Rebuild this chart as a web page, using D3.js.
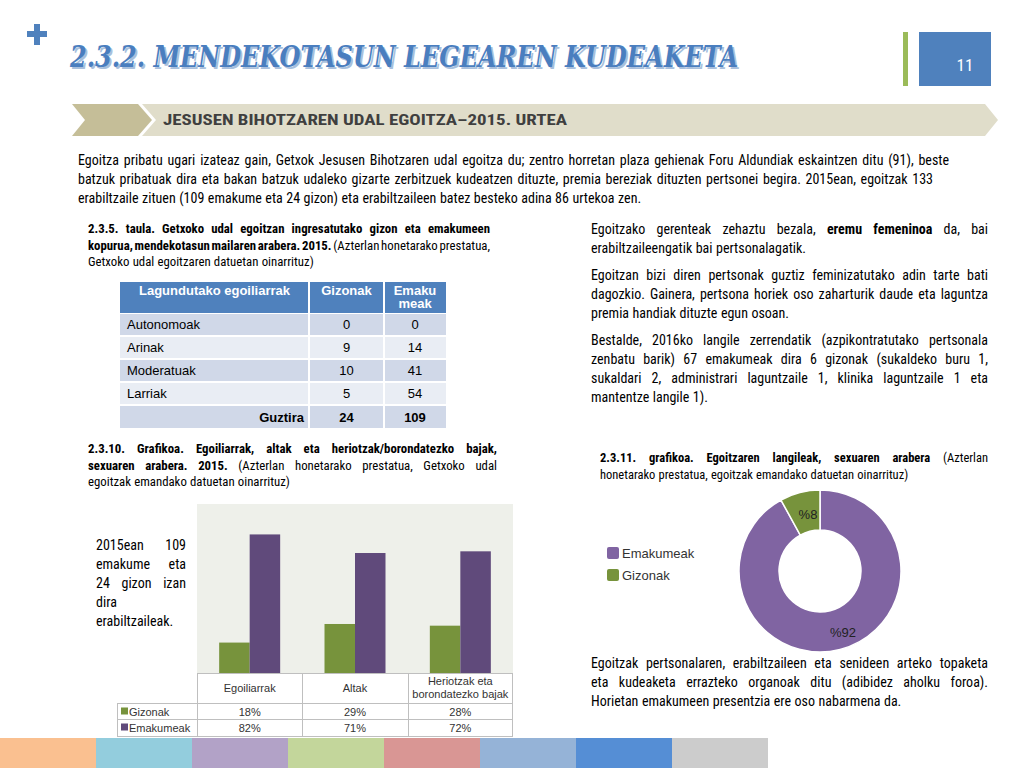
<!DOCTYPE html>
<html><head><meta charset="utf-8">
<script src="https://cdn.jsdelivr.net/npm/d3@7"></script>
<style>
html,body{margin:0;padding:0;background:#fff;}
svg{display:block;}
</style></head>
<body>
<script>
// ---------- DATA ----------
const pageTitle = "2.3.2. MENDEKOTASUN LEGEAREN KUDEAKETA";
const pageNumber = "11";
const sectionTitle = "JESUSEN BIHOTZAREN UDAL EGOITZA–2015. URTEA";

const introLines = [
  "Egoitza pribatu ugari izateaz gain, Getxok Jesusen Bihotzaren udal egoitza du; zentro horretan plaza gehienak Foru Aldundiak eskaintzen ditu (91), beste",
  "batzuk pribatuak dira eta bakan batzuk udaleko gizarte zerbitzuek kudeatzen dituzte, premia bereziak dituzten pertsonei begira. 2015ean, egoitzak 133",
  "erabiltzaile zituen (109 emakume eta 24 gizon) eta erabiltzaileen batez besteko adina 86 urtekoa zen."
];

// table 2.3.5
const tableHeaders = ["Lagundutako egoiliarrak", "Gizonak", "Emaku\nmeak"];
const tableLevels = ["Autonomoak", "Arinak", "Moderatuak", "Larriak"];
const tableMen = [0, 9, 10, 5];
const tableWomen = [0, 14, 41, 54];
const tableTotalLabel = "Guztira";
const tableTotals = [24, 109];

// bar chart 2.3.10
const barCategories = ["Egoiliarrak", "Altak", "Heriotzak eta\nborondatezko bajak"];
const barSeries = ["Gizonak", "Emakumeak"];
const menPct = [18, 29, 28];
const womenPct = [82, 71, 72];

// donut 2.3.11
const donutLabels = ["Emakumeak", "Gizonak"];
const donutValues = [92, 8];

// bottom colour strip
const stripColors = ["#fac090","#93cddd","#b2a2c7","#c3d69b","#d99694","#95b3d7","#558ed5","#cccccc"];

// ---------- SETUP ----------
const W = 1024, H = 768;
const NARROW = "'Liberation Sans Narrow','Arial Narrow','Roboto Condensed',sans-serif";
const SANS = "'Liberation Sans',Arial,sans-serif";
const svg = d3.select("body").append("svg").attr("width", W).attr("height", H);

// justified-line helper: segs = [[text,bold],...]
function line(g, segs, x0, y, width, justify, size, family, color) {
  const toks = [];
  segs.forEach(([t, b]) => t.split(" ").filter(s => s.length).forEach(w => toks.push({w, b})));
  const els = toks.map(tk => g.append("text").attr("x", 0).attr("y", y)
      .attr("font-family", family).attr("font-size", size)
      .attr("font-weight", tk.b ? "bold" : "normal")
      .attr("fill", color || "#000").text(tk.w));
  const ws = els.map(e => e.node().getComputedTextLength());
  const sum = d3.sum(ws);
  let gap = size * 0.25;
  if (justify && toks.length > 1) gap = (width - sum) / (toks.length - 1);
  let x = x0;
  els.forEach((e, i) => { e.attr("x", x); x += ws[i] + gap; });
}
function para(g, lines, x0, y0, lh, width, size, family) {
  lines.forEach((l, i) => line(g, l.segs, x0, y0 + i * lh, width, l.j, size, family));
}

// ---------- HEADER ----------
svg.append("path").attr("d", "M27,34 H47 M37,24 V45").attr("stroke", "#4f81bd").attr("stroke-width", 6);

svg.append("text").attr("x", 72).attr("y", 69).attr("font-family", "'DejaVu Serif',serif")
  .attr("font-weight", "bold").attr("font-style", "italic").attr("font-size", 29)
  .attr("fill", "#a9bfdc").attr("textLength", 668).attr("lengthAdjust", "spacingAndGlyphs").text(pageTitle);
svg.append("text").attr("x", 70).attr("y", 67).attr("font-family", "'DejaVu Serif',serif")
  .attr("font-weight", "bold").attr("font-style", "italic").attr("font-size", 29)
  .attr("fill", "#4a7ebf").attr("textLength", 668).attr("lengthAdjust", "spacingAndGlyphs").text(pageTitle);

svg.append("rect").attr("x", 903).attr("y", 32).attr("width", 5).attr("height", 54).attr("fill", "#9bbb59");
svg.append("rect").attr("x", 919).attr("y", 32).attr("width", 72).attr("height", 54).attr("fill", "#4f81bd");
svg.append("text").attr("x", 965).attr("y", 71).attr("text-anchor", "middle").attr("font-family", NARROW)
  .attr("font-size", 17).attr("fill", "#fff").text(pageNumber);

// section chevrons
svg.append("path").attr("d", "M142,104 H985 L998,120 L985,136 H142 L156,120 Z").attr("fill", "#e0ddca");
svg.append("path").attr("d", "M72,104 H138 L152,120 L138,136 H72 L85,120 Z").attr("fill", "#c5be98");
svg.append("text").attr("x", 163).attr("y", 125).attr("font-family", NARROW).attr("font-weight", "bold")
  .attr("font-size", 15.5).attr("fill", "#3f3f3f").attr("textLength", 404).attr("lengthAdjust", "spacingAndGlyphs")
  .text(sectionTitle);

// intro paragraph
const gIntro = svg.append("g");
line(gIntro, [[introLines[0], false]], 78, 165, 871, true, 14, NARROW);
line(gIntro, [[introLines[1], false]], 78, 184, 855, true, 14, NARROW);
line(gIntro, [[introLines[2], false]], 78, 203, 0, false, 14, NARROW);

// ---------- TABLE 2.3.5 ----------
const gCap1 = svg.append("g");
para(gCap1, [
  {segs: [["2.3.5. taula. Getxoko udal egoitzan ingresatutako gizon eta emakumeen", true]], j: true},
  {segs: [["kopurua, mendekotasun mailaren arabera. 2015.", true], ["(Azterlan honetarako prestatua,", false]], j: true},
  {segs: [["Getxoko udal egoitzaren datuetan oinarrituz)", false]], j: false}
], 88, 233, 16.5, 402, 12.8, NARROW);

const colX = [120, 309, 384, 446];
const rowY = [282, 313, 336, 359, 382, 405, 429];
const gT = svg.append("g");
// header
gT.append("rect").attr("x", colX[0]).attr("y", rowY[0]).attr("width", colX[3] - colX[0]).attr("height", rowY[1] - rowY[0]).attr("fill", "#4f81bd");
tableHeaders.forEach((h, i) => {
  const cx = (colX[i] + colX[i + 1]) / 2;
  h.split("\n").forEach((s, k) => gT.append("text").attr("x", cx).attr("y", 295 + k * 13)
    .attr("text-anchor", "middle").attr("font-family", SANS).attr("font-weight", "bold")
    .attr("font-size", 13).attr("fill", "#fff").text(s));
});
const bodyRows = tableLevels.map((l, i) => [l, tableMen[i], tableWomen[i]]);
bodyRows.push([tableTotalLabel, tableTotals[0], tableTotals[1]]);
bodyRows.forEach((r, i) => {
  const y0 = rowY[i + 1] + 1, y1 = rowY[i + 2] - 1;
  gT.append("rect").attr("x", colX[0]).attr("y", y0).attr("width", colX[3] - colX[0]).attr("height", y1 - y0)
    .attr("fill", i % 2 === 0 ? "#d0d8e8" : "#e9edf4");
  const cy = (y0 + y1) / 2 + 4.5;
  const total = i === bodyRows.length - 1;
  gT.append("text").attr("x", total ? colX[1] - 5 : colX[0] + 7).attr("y", cy)
    .attr("text-anchor", total ? "end" : "start").attr("font-family", SANS)
    .attr("font-weight", total ? "bold" : "normal").attr("font-size", 13).attr("fill", "#000").text(r[0]);
  [1, 2].forEach(c => gT.append("text").attr("x", (colX[c] + colX[c + 1]) / 2).attr("y", cy)
    .attr("text-anchor", "middle").attr("font-family", SANS).attr("font-weight", total ? "bold" : "normal")
    .attr("font-size", 13).attr("fill", "#000").text(r[c]));
});
// white column separators
[colX[1], colX[2]].forEach(x => gT.append("line").attr("x1", x).attr("x2", x).attr("y1", rowY[0]).attr("y2", rowY[6])
  .attr("stroke", "#fff").attr("stroke-width", 2));

// ---------- RIGHT TEXT ----------
const gR = svg.append("g");
para(gR, [
  {segs: [["Egoitzako gerenteak zehaztu bezala,", false], ["eremu femeninoa", true], ["da, bai", false]], j: true},
  {segs: [["erabiltzaileengatik bai pertsonalagatik.", false]], j: false}
], 591, 234, 19, 397, 14, NARROW);
para(gR, [
  {segs: [["Egoitzan bizi diren pertsonak guztiz feminizatutako adin tarte bati", false]], j: true},
  {segs: [["dagozkio. Gainera, pertsona horiek oso zaharturik daude eta laguntza", false]], j: true},
  {segs: [["premia handiak dituzte egun osoan.", false]], j: false}
], 591, 280, 19, 397, 14, NARROW);
para(gR, [
  {segs: [["Bestalde, 2016ko langile zerrendatik (azpikontratutako pertsonala", false]], j: true},
  {segs: [["zenbatu barik) 67 emakumeak dira 6 gizonak (sukaldeko buru 1,", false]], j: true},
  {segs: [["sukaldari 2, administrari laguntzaile 1, klinika laguntzaile 1 eta", false]], j: true},
  {segs: [["mantentze langile 1).", false]], j: false}
], 591, 345, 19, 397, 14, NARROW);

// ---------- BAR CHART 2.3.10 ----------
const gCap2 = svg.append("g");
para(gCap2, [
  {segs: [["2.3.10. Grafikoa. Egoiliarrak, altak eta heriotzak/borondatezko bajak,", true]], j: true},
  {segs: [["sexuaren arabera. 2015.", true], ["(Azterlan honetarako prestatua, Getxoko udal", false]], j: true},
  {segs: [["egoitzak emandako datuetan oinarrituz)", false]], j: false}
], 88, 453, 16.5, 409, 12.8, NARROW);

const gSide = svg.append("g");
para(gSide, [
  {segs: [["2015ean 109", false]], j: true},
  {segs: [["emakume eta", false]], j: true},
  {segs: [["24 gizon izan", false]], j: true},
  {segs: [["dira", false]], j: false},
  {segs: [["erabiltzaileak.", false]], j: false}
], 96, 550, 19, 90, 14, NARROW);

const plot = {x0: 197, x1: 513, y0: 504, y1: 673};
const gB = svg.append("g");
gB.append("rect").attr("x", plot.x0).attr("y", plot.y0).attr("width", plot.x1 - plot.x0).attr("height", plot.y1 - plot.y0).attr("fill", "#eef0ea");
const x0 = d3.scaleBand().domain(barCategories).range([plot.x0, plot.x1]);
const x1 = d3.scaleBand().domain(barSeries).range([0, 61]);
const y = d3.scaleLinear().domain([0, 100]).range([plot.y1, plot.y0]);
const barColors = {Gizonak: "#77933c", Emakumeak: "#604a7b"};
const barData = barCategories.map((c, i) => ({c, vals: [{s: "Gizonak", v: menPct[i]}, {s: "Emakumeak", v: womenPct[i]}]}));
gB.selectAll("g.cat").data(barData).join("g").attr("class", "cat")
  .attr("transform", d => `translate(${x0(d.c) + x0.bandwidth() / 2 - 30.5},0)`)
  .selectAll("rect").data(d => d.vals).join("rect")
  .attr("x", d => x1(d.s)).attr("width", x1.bandwidth())
  .attr("y", d => y(d.v)).attr("height", d => y(0) - y(d.v)).attr("fill", d => barColors[d.s]);

// data table under bars
const tb = {hTop: 673, r1: 703, r2: 719, r3: 736, lx: 117};
const gD = svg.append("g").attr("stroke", "#bfbfbf").attr("stroke-width", 1).attr("fill", "none");
gD.append("line").attr("x1", plot.x0).attr("x2", plot.x1).attr("y1", tb.hTop + 0.5).attr("y2", tb.hTop + 0.5);
[tb.r1, tb.r2, tb.r3].forEach(yy => gD.append("line").attr("x1", tb.lx).attr("x2", plot.x1).attr("y1", yy + 0.5).attr("y2", yy + 0.5));
gD.append("line").attr("x1", tb.lx + 0.5).attr("x2", tb.lx + 0.5).attr("y1", tb.r1).attr("y2", tb.r3);
barCategories.forEach(c => gD.append("line").attr("x1", Math.round(x0(c)) + 0.5).attr("x2", Math.round(x0(c)) + 0.5).attr("y1", tb.hTop).attr("y2", tb.r3));
gD.append("line").attr("x1", plot.x1 - 0.5).attr("x2", plot.x1 - 0.5).attr("y1", tb.hTop).attr("y2", tb.r3);
const gDT = svg.append("g").attr("font-family", SANS).attr("font-size", 11).attr("fill", "#333").attr("text-anchor", "middle");
barCategories.forEach(c => {
  const parts = c.split("\n"), cx = x0(c) + x0.bandwidth() / 2;
  parts.forEach((p, k) => gDT.append("text").attr("x", cx)
    .attr("y", (parts.length === 1 ? 692 : 685) + k * 13).text(p));
});
[menPct, womenPct].forEach((arr, si) => {
  const yy = (si === 0 ? tb.r1 : tb.r2) + 12.5;
  arr.forEach((v, i) => gDT.append("text").attr("x", x0(barCategories[i]) + x0.bandwidth() / 2).attr("y", yy).text(v + "%"));
  svg.append("rect").attr("x", 121).attr("y", yy - 8).attr("width", 7).attr("height", 7).attr("fill", barColors[barSeries[si]]);
  svg.append("text").attr("x", 129).attr("y", yy).attr("font-family", SANS).attr("font-size", 11).attr("fill", "#333").text(barSeries[si]);
});

// ---------- DONUT 2.3.11 ----------
const gCap3 = svg.append("g");
para(gCap3, [
  {segs: [["2.3.11. grafikoa. Egoitzaren langileak, sexuaren arabera", true], ["(Azterlan", false]], j: true},
  {segs: [["honetarako prestatua, egoitzak emandako datuetan oinarrituz)", false]], j: false}
], 600, 462, 17, 388, 12.5, NARROW);

const dc = {x: 820, y: 571, ro: 81, ri: 41};
const donutColors = ["#8064a2", "#77933c"];
const pie = d3.pie().sort(null).value(d => d)(donutValues);
const arc = d3.arc().innerRadius(dc.ri).outerRadius(dc.ro);
const gP = svg.append("g").attr("transform", `translate(${dc.x},${dc.y})`);
gP.selectAll("path").data(pie).join("path").attr("d", arc)
  .attr("fill", (d, i) => donutColors[i]).attr("stroke", "#fff").attr("stroke-width", 1.5);
gP.selectAll("text").data(pie).join("text")
  .attr("transform", (d, i) => i === 0 ? `translate(23,66)` : `translate(-12,-52)`)
  .attr("text-anchor", "middle").attr("font-family", SANS).attr("font-size", 13).attr("fill", "#222")
  .text((d, i) => "%" + donutValues[i]);
// legend
donutLabels.forEach((l, i) => {
  svg.append("rect").attr("x", 607).attr("y", 547 + i * 22).attr("width", 12).attr("height", 12).attr("rx", 2)
    .attr("fill", donutColors[i]);
  svg.append("text").attr("x", 622).attr("y", 558 + i * 22).attr("font-family", SANS).attr("font-size", 13)
    .attr("fill", "#333").text(l);
});

const gBot = svg.append("g");
para(gBot, [
  {segs: [["Egoitzak pertsonalaren, erabiltzaileen eta senideen arteko topaketa", false]], j: true},
  {segs: [["eta kudeaketa errazteko organoak ditu (adibidez aholku foroa).", false]], j: true},
  {segs: [["Horietan emakumeen presentzia ere oso nabarmena da.", false]], j: false}
], 591, 668, 19, 397, 14, NARROW);

// ---------- BOTTOM STRIP ----------
svg.append("g").selectAll("rect").data(stripColors).join("rect")
  .attr("x", (d, i) => i * 96).attr("y", 738).attr("width", 96).attr("height", 30).attr("fill", d => d);
</script>
</body></html>
